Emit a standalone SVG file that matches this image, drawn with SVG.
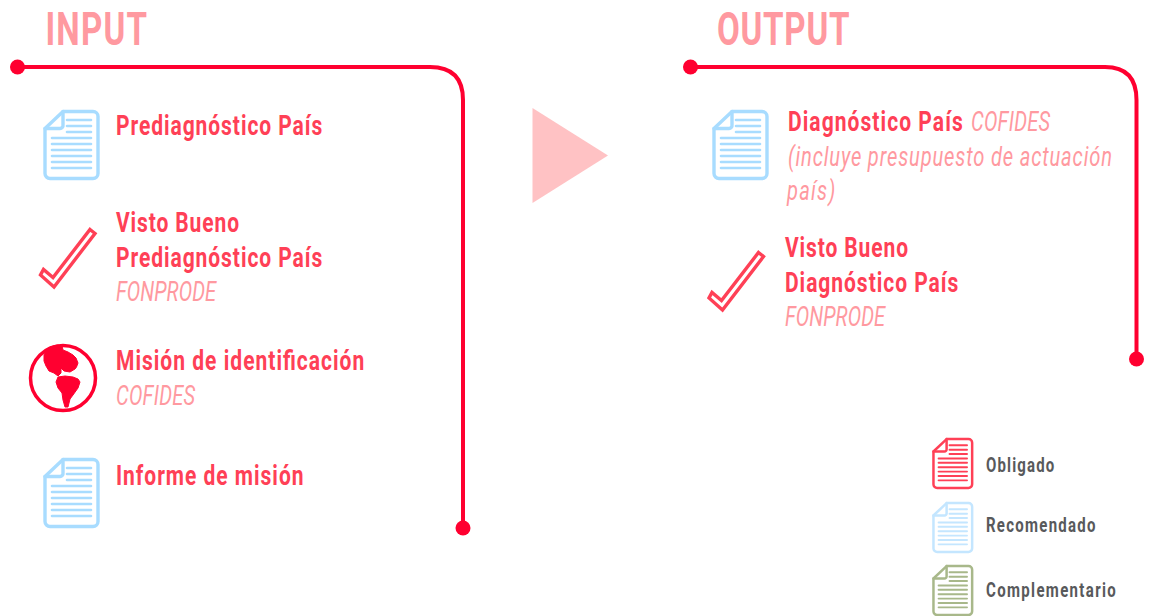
<svg xmlns="http://www.w3.org/2000/svg" width="1152" height="616" viewBox="0 0 1152 616">
<style>
text{font-family:"Roboto","Liberation Sans",sans-serif}
.title{font-size:46px;font-weight:700;fill:#ff99a0}
.main{font-size:28px;font-weight:700;fill:#ff4056}
.sub{font-size:28px;font-style:italic;fill:#ff99a0}
.leg{font-size:20px;font-weight:700;fill:#58595b}
.conn{fill:none;stroke:#ff0030;stroke-width:4}
.dot{fill:#ff0030}
.check{fill:none;stroke:#ff4056;stroke-width:3.400}
.doc{fill:none;stroke-linecap:round;stroke-linejoin:round;stroke-width:3.400}
.doc .l{stroke-width:2.600}
.blue{stroke:#a8dcff}.red{stroke:#ff4056}.pale{stroke:#c4e6ff}.green{stroke:#a8b88a}
.land{fill:#ff0030;stroke:#ff0030;stroke-width:1;stroke-linejoin:round}
</style>
<defs>
<g id="docShape" class="doc">
<path d="M20 1.500H50a5 5 0 0 1 5 5V63.500a5 5 0 0 1-5 5H7a5 5 0 0 1-5-5V18.500Z"/>
<path d="M20 1.500V15a3 3 0 0 1-3 3.500H2"/>
<path class="l" d="M24 10H48M24 16H48M24 22H48M9 28H48M9 34H48M9 40H48M9 46H48M9 52H48M9 58H48"/>
</g>
<polygon id="checkShape" class="check" points="90,229.500 95,233.500 54,287 40.500,275 43.500,269.500 53,277.500"/>
</defs>
<g id="connectors">
<path class="conn" d="M17 67H430Q463 67 463 100V528"/>
<path class="conn" d="M690 67H1105Q1136.500 67 1136.500 100V359"/>
<circle class="dot" cx="17.500" cy="67" r="7.500"/>
<circle class="dot" cx="463" cy="528" r="7.500"/>
<circle class="dot" cx="690.500" cy="67" r="7.500"/>
<circle class="dot" cx="1136.500" cy="359" r="7.500"/>
</g>
<g id="title-input"><text class="title" transform="translate(45.500 45) scale(.72 1)" textLength="141">INPUT</text></g>
<g id="title-output"><text class="title" transform="translate(717 45) scale(.72 1)" textLength="184">OUTPUT</text></g>
<g id="arrow"><polygon points="532.500,108 608,155.500 532.500,203" fill="#ffc2c4"/></g>
<g id="input-prediagnostico">
<use href="#docShape" class="blue" x="43" y="110"/>
<text class="main" transform="translate(116 135) scale(.75 1)" textLength="275">Prediagnóstico País</text>
</g>
<g id="input-visto-bueno">
<use href="#checkShape"/>
<text class="main" transform="translate(116 232) scale(.75 1)" textLength="164">Visto Bueno</text>
<text class="main" transform="translate(116 267) scale(.75 1)" textLength="275">Prediagnóstico País</text>
<text class="sub" transform="translate(116 301) scale(.72 1)" textLength="139">FONPRODE</text>
</g>
<g id="input-mision">
<circle cx="63" cy="378" r="32.500" fill="none" stroke="#ff0030" stroke-width="3.500"/>
<path class="land" d="M44 361L44 355L47 349L53 346L58 345L62 346L63 350L68 352L73 355L76 358L78 363L76.500 367L75 369L70 372L64 371L61 368L61 373L58 376L54 373L49 371L46 366Z"/>
<path class="land" d="M56 382L58 377L65 376L73 377L78 379L80 382L78 388L73 395L70 399L68 407L65 407L63 400L62 393L58 388Z"/>
<text class="main" transform="translate(116 370) scale(.75 1)" textLength="331">Misión de identificación</text>
<text class="sub" transform="translate(116 405) scale(.72 1)" textLength="110">COFIDES</text>
</g>
<g id="input-informe">
<use href="#docShape" class="blue" x="43" y="458"/>
<text class="main" transform="translate(116 485) scale(.75 1)" textLength="250">Informe de misión</text>
</g>
<g id="output-diagnostico">
<use href="#docShape" class="blue" x="712" y="110"/>
<text class="main" transform="translate(788 131) scale(.75 1)" textLength="233">Diagnóstico País</text>
<text class="sub" transform="translate(971 131) scale(.72 1)" textLength="110">COFIDES</text>
<text class="sub" transform="translate(788 166) scale(.72 1)" textLength="450">(incluye presupuesto de actuación</text>
<text class="sub" transform="translate(787 200) scale(.72 1)" textLength="67">país)</text>
</g>
<g id="output-visto-bueno">
<use href="#checkShape" x="668.500" y="23"/>
<text class="main" transform="translate(785 257) scale(.75 1)" textLength="164">Visto Bueno</text>
<text class="main" transform="translate(785 292) scale(.75 1)" textLength="231">Diagnóstico País</text>
<text class="sub" transform="translate(785 326) scale(.72 1)" textLength="139">FONPRODE</text>
</g>
<g id="legend-obligado">
<use href="#docShape" class="red" transform="translate(932 438) scale(.73)"/>
<text class="leg" transform="translate(986 472) scale(.75 1)" textLength="91">Obligado</text>
</g>
<g id="legend-recomendado">
<use href="#docShape" class="pale" transform="translate(932 502) scale(.73)"/>
<text class="leg" transform="translate(986 532) scale(.75 1)" textLength="146">Recomendado</text>
</g>
<g id="legend-complementario">
<use href="#docShape" class="green" transform="translate(932 565) scale(.73)"/>
<text class="leg" transform="translate(986 597) scale(.75 1)" textLength="173">Complementario</text>
</g>
</svg>
